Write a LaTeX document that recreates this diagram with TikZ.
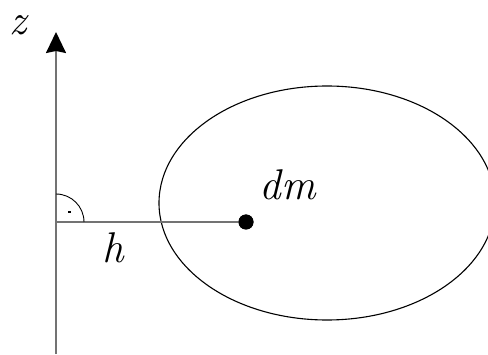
\documentclass[tikz,border=0pt]{standalone}
\usepackage{fontspec}
\usetikzlibrary{arrows.meta}
\begin{document}
\begin{tikzpicture}[x=1pt,y=1pt,
  axisline/.style={draw=black!55,line width=1.8pt},
  lbl/.style={font=\fontsize{43}{47}\selectfont\itshape,inner sep=0pt,anchor=base},
  massdot/.style={circle,fill=black,inner sep=0pt,minimum size=15pt}]
\useasboundingbox (0,0) rectangle (488,354);
\clip (0,0) rectangle (488,354);
\coordinate (bot) at (56,0);
\coordinate (top) at (56,322);
\coordinate (O) at (56,132);
\node[massdot] (m) at (246,132) {};
\draw[line width=1.1pt] (327,151) ellipse (168 and 117);
\draw[axisline] (O) -- (m.center);
\draw[axisline,-{Stealth[length=21pt,width=20pt,inset=2pt,black]}] (bot) -- (top);
\draw[line width=0.9pt] ([xshift=28pt]O) arc (0:90:28);
\fill (68,140.5) rectangle (70.5,143);
\node[massdot] at (246,132) {};
\node[lbl] (z) at (18,319) {z};
\node[lbl] (h) at (113.5,92) {h};
\node[lbl] (dm) at (287.5,154) {dm};
\end{tikzpicture}
\end{document}
